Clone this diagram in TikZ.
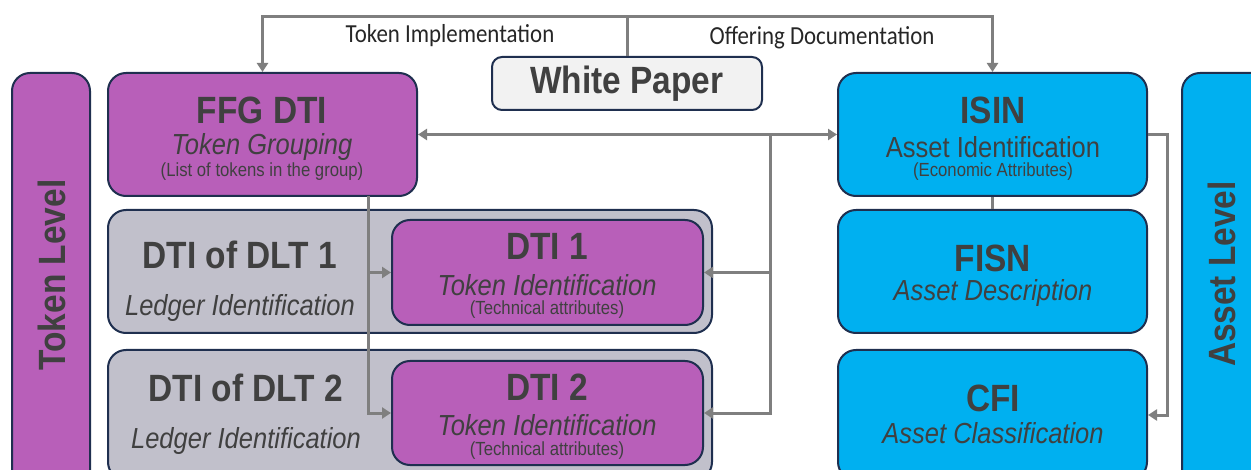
\documentclass[tikz,border=0pt]{standalone}
\usepackage{fontspec}
\setmainfont{Liberation Sans}[FakeStretch=0.88]
\newfontfamily\lblfont{Carlito}[FakeStretch=0.88]
\usepackage{xcolor}
\usepackage{tikz}
\usetikzlibrary{positioning,calc,arrows.meta}

\definecolor{tokpurple}{HTML}{B85FB9}
\definecolor{assetblue}{HTML}{00B0F0}
\definecolor{ledgergray}{HTML}{C1C0CB}
\definecolor{paperwhite}{HTML}{F2F2F2}
\definecolor{edgenavy}{HTML}{1F2F4F}
\definecolor{txtgray}{HTML}{404040}
\definecolor{conngray}{HTML}{7F7F7F}

\tikzset{
  blk/.style={draw=edgenavy, line width=2pt, rounded corners=18pt, inner sep=0pt},
  conn/.style={draw=conngray, line width=3pt, -{Triangle[length=9pt,width=11pt]}},
  ttl/.style={text=txtgray, font=\fontsize{38}{40}\selectfont\bfseries},
  sub/.style={text=txtgray, font=\fontsize{29}{31}\selectfont\itshape},
  note/.style={text=txtgray, font=\fontsize{19}{21}\selectfont},
  lbl/.style={text=black!85, font=\lblfont\fontsize{26}{28}\selectfont},
}

\begin{document}
\begin{tikzpicture}[x=1pt,y=1pt]
    \useasboundingbox (0,0) rectangle (1251,-470);

    % Level bars
    \node [blk, fill=tokpurple, minimum width=78pt, minimum height=417pt] (tokbar) at (51,-281.5) {};
    \node [blk, fill=assetblue, minimum width=88pt, minimum height=417pt] (assetbar) at (1226,-281.5) {};
    \node [ttl, rotate=90] (toklvl) at (52,-275) {Token Level};
    \node [ttl, rotate=90] (assetlvl) at (1222,-274) {Asset Level};

    % Top row
    \node [blk, fill=tokpurple, minimum width=309pt, minimum height=123pt] (ffg) at (262.5,-134.5) {};
    \node [blk, fill=paperwhite, rounded corners=10pt, minimum width=270pt, minimum height=53pt] (wp) at (627,-83.5) {};
    \node [blk, fill=assetblue, minimum width=309pt, minimum height=123pt] (isin) at (992.5,-134.5) {};

    % Ledger boxes
    \node [blk, fill=ledgergray, minimum width=604pt, minimum height=123pt] (dlt1) at (410,-271.5) {};
    \node [blk, fill=tokpurple, minimum width=311pt, minimum height=105pt] (dti1) at (547.5,-272.5) {};
    \node [blk, fill=ledgergray, minimum width=604pt, minimum height=130pt] (dlt2) at (410,-415) {};
    \node [blk, fill=tokpurple, minimum width=311pt, minimum height=104pt] (dti2) at (547.5,-413) {};

    % Asset boxes
    \node [blk, fill=assetblue, minimum width=309pt, minimum height=123pt] (fisn) at (992.5,-271.5) {};
    \node [blk, fill=assetblue, minimum width=309pt, minimum height=130pt] (cfi) at (992.5,-415) {};

    % Texts
    \node [ttl] (ffgT) at (262,-110) {FFG DTI};
    \node [sub] (ffgS) at (262,-147) {Token Grouping};
    \node [note] (ffgN) at (262,-172) {(List of tokens in the group)};
    \node [ttl] (wpT) at (627,-84) {White Paper};
    \node [ttl] (isinT) at (993,-110) {ISIN};
    \node [sub, font=\fontsize{29}{31}\selectfont] (isinS) at (993,-147) {Asset Identification};
    \node [note] (isinN) at (993,-172) {(Economic Attributes)};
    \node [ttl] (dlt1T) at (240,-255) {DTI of DLT 1};
    \node [sub] (dlt1S) at (240,-308) {Ledger Identification};
    \node [ttl] (dti1T) at (547,-246) {DTI 1};
    \node [sub] (dti1S) at (547,-285) {Token Identification};
    \node [note] (dti1N) at (547,-310) {(Technical attributes)};
    \node [ttl] (dlt2T) at (246,-388) {DTI of DLT 2};
    \node [sub] (dlt2S) at (246,-441) {Ledger Identification};
    \node [ttl] (dti2T) at (547,-387) {DTI 2};
    \node [sub] (dti2S) at (547,-425) {Token Identification};
    \node [note] (dti2N) at (547,-451) {(Technical attributes)};
    \node [ttl] (fisnT) at (993,-258) {FISN};
    \node [sub] (fisnS) at (993,-293) {Asset Description};
    \node [ttl] (cfiT) at (993,-398) {CFI};
    \node [sub] (cfiS) at (993,-433) {Asset Classification};

    % White paper links
    \coordinate (top) at (627,-17);
    \draw [conn] (wp.north) -- (top) -| (ffg.north);
    \draw [conn] (top) -| (isin.north);
    \node [lbl] (implT) at (450,-36) {Token Implementation};
    \node [lbl] (offerT) at (822,-38) {Offering Documentation};

    % Token to asset links
    \draw [conn, {Triangle[length=9pt,width=11pt]}-{Triangle[length=9pt,width=11pt]}] (ffg.east) -- (isin.west);
    \coordinate (busR) at (770,-134.5);
    \draw [conn] (busR) |- (dti1.east);
    \draw [conn] (busR) |- (dti2.east);
    \coordinate (busL) at (368,-196);
    \draw [conn] (busL) |- (dti1.west);
    \draw [conn] (busL) |- (dti2.west);

    % Asset links
    \draw [conn, -] (isin.south) -- (fisn.north);
    \draw [conn] (isin.east) -- ++(19,0) |- (cfi.east);
\end{tikzpicture}
\end{document}
